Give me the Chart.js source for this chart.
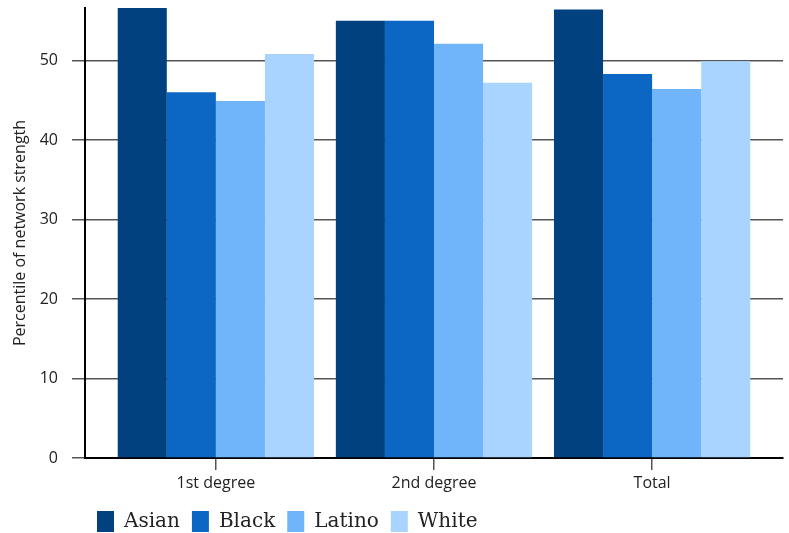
<!DOCTYPE html>
<html>
<head>
<meta charset="utf-8">
<script src="https://cdn.jsdelivr.net/npm/chart.js@4.4.1/dist/chart.umd.min.js"></script>
<style>
  html, body { margin: 0; padding: 0; background: #ffffff; }
  #wrap { width: 789px; height: 533px; position: relative; }
</style>
</head>
<body>
<div id="wrap"><canvas id="chart" width="789" height="533"></canvas></div>
<script>
// Network strength percentiles by group
const categories = ['1st degree', '2nd degree', 'Total'];
const asian  = [57.0, 55.0, 56.4];
const black  = [46.0, 55.0, 48.3];
const latino = [44.9, 52.1, 46.4];
const white  = [50.8, 47.2, 49.9];
const yTicks = [0, 10, 20, 30, 40, 50];
const yMax = 56.6;

const seriesNames  = ['Asian', 'Black', 'Latino', 'White'];
const seriesValues = [asian, black, latino, white];
const seriesColors = ['#01417f', '#0c67c4', '#70b5fa', '#a9d4ff'];

const tickFont = { family: 'Open Sans', size: 16 };

const datasets = seriesNames.map((name, s) => ({
  label: name,
  data: seriesValues[s].map((v, i) => ({ x: i, y: v })),
  backgroundColor: seriesColors[s],
  borderWidth: 0,
  categoryPercentage: 0.9,
  barPercentage: 1.0
}));

new Chart(document.getElementById('chart'), {
  type: 'bar',
  data: { datasets },
  options: {
    responsive: false,
    animation: false,
    layout: { padding: { top: 8, right: 6, left: 0, bottom: -9 } },
    plugins: {
      tooltip: { enabled: false },
      legend: {
        position: 'bottom',
        align: 'start',
        fullSize: false,
        labels: {
          boxWidth: 17,
          boxHeight: 21,
          padding: 12,
          color: '#222',
          font: { family: 'DejaVu Serif', size: 20 }
        }
      }
    },
    scales: {
      x: {
        type: 'linear',
        min: -0.6,
        max: 2.6,
        offset: false,
        afterBuildTicks: (scale) => {
          scale.ticks = categories.map((_, i) => ({ value: i }));
        },
        afterFit: (scale) => {
          scale.height = 41;
          scale.paddingLeft = 0;
          scale.paddingRight = 0;
        },
        ticks: {
          autoSkip: false,
          maxRotation: 0,
          padding: 4,
          color: '#222',
          font: tickFont,
          callback: (v) => categories[v]
        },
        grid: {
          display: true,
          offset: false,
          drawOnChartArea: false,
          drawTicks: true,
          tickLength: 12,
          color: '#555',
          lineWidth: 1.5
        },
        border: { display: true, color: '#000', width: 2 }
      },
      y: {
        min: 0,
        max: yMax,
        afterBuildTicks: (scale) => {
          scale.ticks = yTicks.map(v => ({ value: v }));
        },
        afterFit: (scale) => {
          scale.width = 85;
          scale.paddingTop = 0;
          scale.paddingBottom = 0;
        },
        ticks: {
          padding: 14,
          color: '#222',
          font: tickFont
        },
        grid: {
          color: '#555',
          lineWidth: 1.5,
          tickLength: 13
        },
        border: { display: true, color: '#000', width: 2 },
        title: {
          display: true,
          text: 'Percentile of network strength',
          color: '#222',
          font: { family: 'Open Sans', size: 16 },
          padding: { top: 11, bottom: 4 }
        }
      }
    }
  }
});
</script>
</body>
</html>
